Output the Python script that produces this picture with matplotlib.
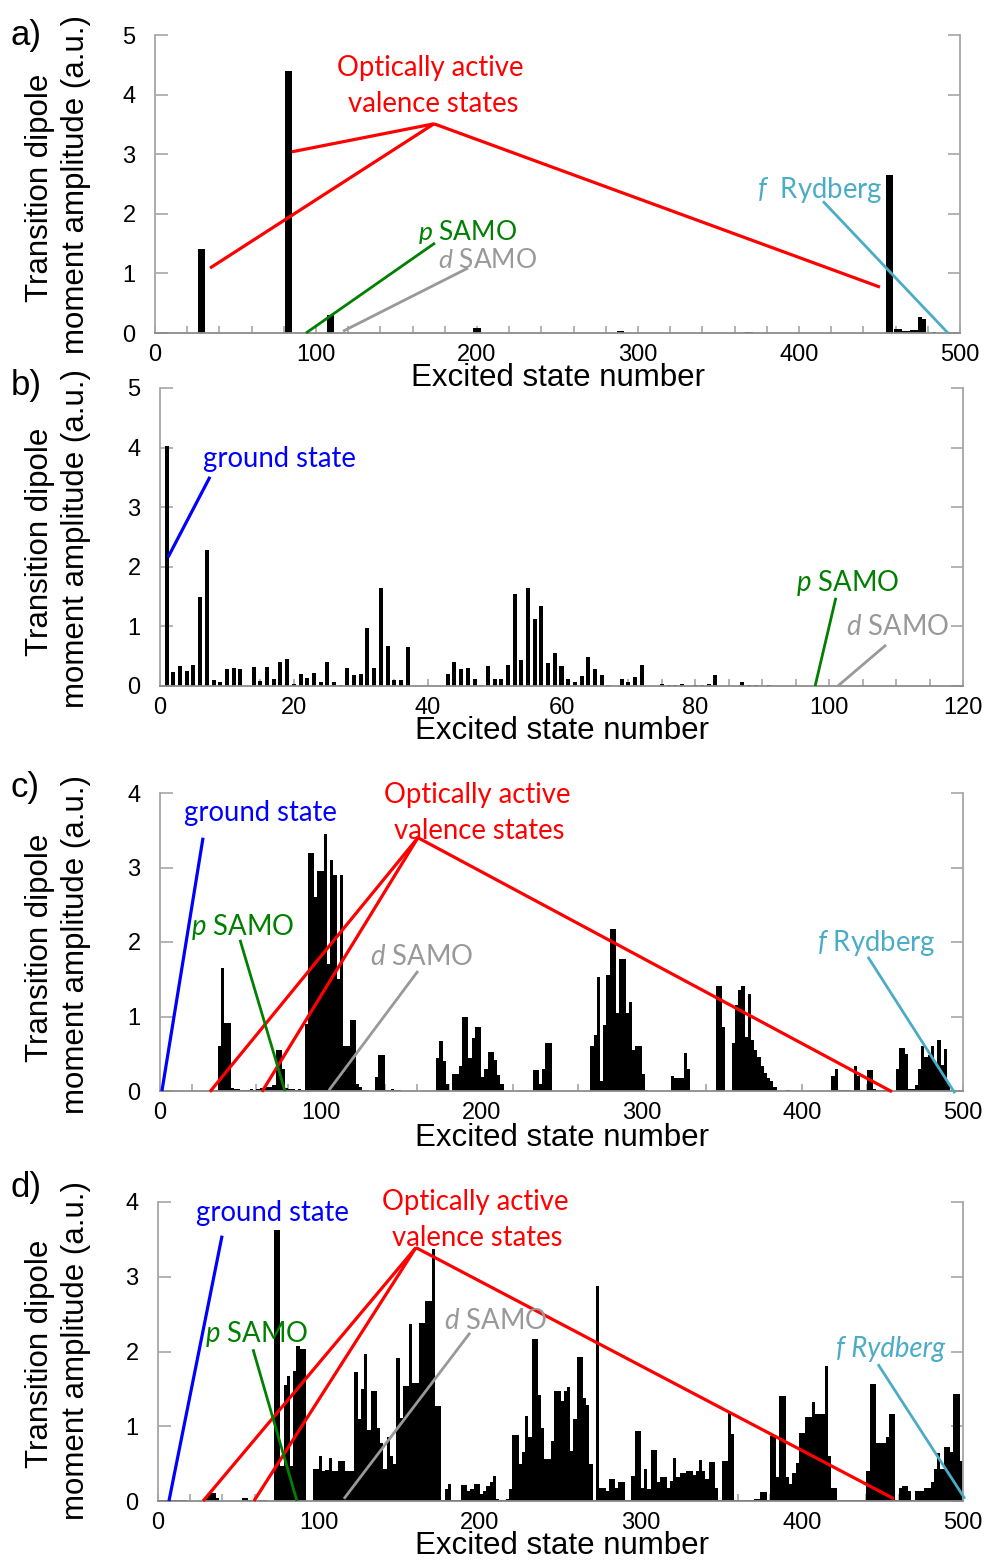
import numpy as np
import matplotlib.pyplot as plt

plt.rcParams['font.family'] = ['Liberation Sans', 'DejaVu Sans']
plt.rcParams['mathtext.fontset'] = 'custom'
plt.rcParams['mathtext.rm'] = 'Lato'
plt.rcParams['mathtext.it'] = 'Lato:italic'

# ---------------- data ----------------
# a) isolated peaks (state number, amplitude)
a_states = [29, 83, 109, 200, 289, 369, 456]
a_amps = [1.41, 4.39, 0.31, 0.08, 0.04, 0.02, 2.65]
a_tail_states = [460, 462.5, 465, 467.5, 470, 472.5, 475, 477.5, 484]
a_tail_amps = [0.06, 0.06, 0.04, 0.04, 0.05, 0.05, 0.27, 0.23, 0.01]

# b) states 1..91
b_amps = [4.02, 0.24, 0.33, 0.26, 0.35, 1.49, 2.28, 0.10, 0.06, 0.28,
          0.30, 0.28, 0.00, 0.32, 0.08, 0.32, 0.11, 0.41, 0.45, 0.04,
          0.20, 0.13, 0.22, 0.06, 0.41, 0.06, 0.01, 0.30, 0.19, 0.20,
          0.97, 0.30, 1.64, 0.67, 0.10, 0.10, 0.65, 0.00, 0.00, 0.00,
          0.00, 0.00, 0.20, 0.41, 0.28, 0.30, 0.11, 0.01, 0.33, 0.11,
          0.11, 0.35, 1.55, 0.44, 1.64, 1.12, 1.34, 0.39, 0.56, 0.33,
          0.11, 0.06, 0.17, 0.49, 0.28, 0.19, 0.01, 0.00, 0.11, 0.06,
          0.15, 0.35, 0.00, 0.00, 0.03, 0.02, 0.02, 0.04, 0.00, 0.02,
          0.02, 0.03, 0.19, 0.00, 0.00, 0.00, 0.06, 0.02, 0.02, 0.00,
          0.01]

# c) and d) amplitudes in bins of two states, states 0..498 (one row = 20 states)
c_amps = [
    0, 0, 0, 0, 0, 0, 0, 0, 0, 0,
    0, 0, 0, 0, 0, 0, 0.01, 0.01, 0.6, 1.65,
    0.91, 0.91, 0.04, 0.03, 0.03, 0.02, 0.02, 0.02, 0.03, 0.02,
    0.03, 0.04, 0.05, 0.06, 0.05, 0.08, 0.55, 0.55, 0.3, 0.04,
    0.03, 0.03, 0.02, 0.03, 0.02, 0.9, 3.2, 3.2, 2.6, 2.95,
    2.95, 3.45, 1.7, 3.1, 2.9, 1.5, 2.9, 0.6, 0.6, 0.95,
    0.95, 0.1, 0.05, 0.02, 0.02, 0, 0, 0.19, 0.48, 0.48,
    0.02, 0.02, 0.03, 0.02, 0.02, 0, 0, 0, 0, 0,
    0, 0, 0, 0, 0, 0, 0.44, 0.67, 0.4, 0.1,
    0, 0.23, 0.23, 0.33, 1.0, 1.0, 0.44, 0.71, 0.86, 0.86,
    0.19, 0.3, 0.53, 0.53, 0.42, 0.21, 0.1, 0, 0, 0,
    0, 0, 0, 0, 0, 0, 0.28, 0.28, 0.1, 0.29,
    0.65, 0.65, 0, 0, 0, 0, 0, 0, 0, 0,
    0, 0, 0, 0, 0.6, 0.75, 1.53, 0.14, 0.89, 1.56,
    2.17, 2.17, 1.05, 1.77, 1.77, 1.05, 1.2, 0.55, 0.6, 0.6,
    0.23, 0.02, 0, 0, 0, 0, 0, 0, 0, 0.2,
    0.17, 0.17, 0.17, 0.51, 0.3, 0, 0, 0, 0, 0,
    0, 0, 0, 1.41, 1.41, 0.86, 0, 0, 0.65, 1.15,
    1.36, 1.41, 0.73, 1.3, 0.69, 0.55, 0.46, 0.33, 0.24, 0.17,
    0.13, 0.05, 0, 0, 0, 0.01, 0, 0, 0, 0,
    0, 0, 0, 0, 0, 0, 0, 0, 0, 0.2,
    0.29, 0.02, 0.02, 0.02, 0.02, 0, 0.33, 0.2, 0.02, 0.02,
    0.28, 0.28, 0.03, 0.02, 0.02, 0.01, 0.01, 0, 0, 0.3,
    0.58, 0.58, 0.5, 0.03, 0.03, 0.08, 0.3, 0.6, 0.46, 0.48,
    0.6, 0.38, 0.68, 0.35, 0.56, 0.1, 0, 0, 0, 0,
]

d_amps = [
    0.02, 0.01, 0.02, 0.02, 0.01, 0.02, 0.01, 0.02, 0.01, 0,
    0, 0, 0, 0, 0, 0.08, 0.11, 0.11, 0.04, 0,
    0, 0, 0, 0, 0, 0, 0.04, 0.04, 0.02, 0.02,
    0, 0.02, 0.02, 0.02, 0, 0, 3.62, 3.62, 0.47, 1.55,
    1.67, 0.47, 1.74, 2.07, 2.03, 2.03, 0, 0, 0.43, 0.43,
    0.6, 0.4, 0.42, 0.57, 0.4, 0.4, 0.54, 0.54, 0.4, 0.4,
    0.4, 1.72, 1.1, 1.5, 1.97, 0.95, 1.47, 1.47, 0.98, 0.78,
    0.43, 0.85, 0.6, 0.5, 1.91, 1.11, 1.54, 1.54, 2.37, 1.58,
    1.58, 2.38, 2.38, 2.67, 2.67, 3.37, 1.27, 1.27, 0.02, 0.16,
    0.23, 0.02, 0.01, 0.02, 0.21, 0.21, 0.13, 0.16, 0.23, 0.23,
    0.09, 0.14, 0.2, 0.25, 0.33, 0.03, 0.02, 0.02, 0.03, 0.16,
    0.88, 0.88, 0.49, 0.66, 1.14, 0.85, 2.17, 2.17, 1.42, 0.98,
    0.56, 0.56, 0.8, 1.47, 1.47, 1.34, 1.47, 1.53, 0.67, 1.1,
    1.92, 1.92, 1.38, 1.29, 0.49, 0.02, 2.88, 0.18, 0.18, 0.14,
    0.29, 0.29, 0.18, 0.25, 0.25, 0.02, 0.02, 0.34, 0.93, 0.93,
    0.18, 0.43, 0.16, 0.68, 0.68, 0.25, 0.32, 0.32, 0.18, 0.27,
    0.58, 0.32, 0.38, 0.38, 0.4, 0.4, 0.35, 0.4, 0.55, 0.4,
    0.29, 0.52, 0.52, 0.18, 0.02, 0.54, 0.54, 1.18, 0.89, 0.01,
    0.01, 0.01, 0.01, 0.01, 0.01, 0.03, 0.03, 0.12, 0.12, 0.01,
    0.87, 0.87, 0.32, 1.41, 1.41, 0.32, 0.23, 0.38, 0.51, 0.91,
    0.91, 1.12, 1.12, 1.33, 1.16, 1.16, 1.16, 1.8, 0.6, 0.18,
    0.18, 0.01, 0.01, 0.01, 0.01, 0.01, 0.01, 0.01, 0.01, 0.01,
    0.4, 1.56, 1.56, 0.78, 0.78, 0.78, 0.85, 1.17, 1.17, 0.01,
    0.18, 0.2, 0.2, 0.13, 0.01, 0.14, 0.14, 0.14, 0.18, 0.18,
    0.25, 0.43, 0.64, 0.43, 0.72, 0.72, 0.66, 1.43, 1.43, 0.54,
]

RED = '#ff0000'
GREEN = '#008000'
GRAY = '#999999'
CYAN = '#4bacc6'
BLUE = '#0000ff'
SPINE = '#a6a6a6'


def style_axis(ax, xmax, ymax, xmajor, xminor_step):
    ax.set_xlim(0, xmax)
    ax.set_ylim(0, ymax)
    ax.set_axisbelow(True)
    ax.spines['top'].set_visible(False)
    for s in ['left', 'right']:
        ax.spines[s].set_color(SPINE)
        ax.spines[s].set_linewidth(1.3)
    ax.spines['bottom'].set_color('#8c8c8c')
    ax.spines['bottom'].set_linewidth(1.3)
    ax.set_yticks(range(ymax + 1))
    ax.tick_params(axis='y', which='major', direction='in', left=True, right=True,
                   length=9, width=1.2, color=SPINE, labelsize=17, pad=14)
    ax.set_xticks(np.arange(0, xmax + 1, xmajor))
    ax.set_xticks(np.arange(0, xmax + 1, xminor_step), minor=True)
    ax.tick_params(axis='x', which='both', direction='in', length=5, width=1.2,
                   color=SPINE, labelsize=17, pad=8)


def seg(ax, p0, p1, color, lw=2.0):
    ax.plot([p0[0], p1[0]], [p0[1], p1[1]], color=color, lw=lw,
            solid_capstyle='butt', clip_on=False, zorder=5)


def label(ax, x, y, s, color, style='normal', size=19.8):
    ax.text(x, y, s, color=color, fontsize=size, ha='center', va='center',
            family='Lato', fontstyle=style, zorder=6)


fig = plt.figure(figsize=(9.9, 15.6), dpi=100)
W, H = 990.0, 1560.0


def add_axes(x0, x1, ytop, ybot):
    return fig.add_axes([x0 / W, 1 - ybot / H, (x1 - x0) / W, (ybot - ytop) / H])


# ---------- a ----------
ax = add_axes(155, 960, 35, 333)
ax.bar(a_states, a_amps, width=4.5, color='black')
ax.bar(a_tail_states, a_tail_amps, width=2.4, color='black')
style_axis(ax, 500, 5, 100, 20)
label(ax, 170.8, 4.45, 'Optically active', RED)
label(ax, 172.7, 3.84, 'valence states', RED)
apex = (173.3, 3.51)
for end in [(85, 3.04), (34.2, 1.09), (450.3, 0.77)]:
    seg(ax, apex, end, RED, 2.3)
label(ax, 194.4, 1.70, r'$\mathit{p}$ SAMO', GREEN, size=19)
seg(ax, (173.9, 1.51), (93.8, 0), GREEN)
label(ax, 206.8, 1.22, r'$\mathit{d}$ SAMO', GRAY, size=19)
seg(ax, (194.4, 1.09), (116.8, 0.03), GRAY)
label(ax, 413, 2.4, r'$\mathit{f}$  Rydberg', CYAN)
seg(ax, (414.9, 2.21), (492.5, 0), CYAN)

# ---------- b ----------
ax = add_axes(160, 963, 388, 686)
ax.bar(np.arange(1, len(b_amps) + 1), b_amps, width=0.6, color='black')
style_axis(ax, 120, 5, 20, 5)
label(ax, 17.9, 3.81, 'ground state', BLUE)
seg(ax, (7.47, 3.51), (1.2, 2.16), BLUE, 2.3)
label(ax, 102.8, 1.73, r'$\mathit{p}$ SAMO', GREEN)
seg(ax, (101.0, 1.48), (97.9, 0), GREEN)
label(ax, 110.2, 0.99, r'$\mathit{d}$ SAMO', GRAY)
seg(ax, (108.5, 0.69), (101.3, 0), GRAY)

# ---------- c ----------
ax = add_axes(160, 963, 793, 1091)
ax.bar(np.arange(0, 500, 2), c_amps, width=2.0, align='edge', color='black')
style_axis(ax, 500, 4, 100, 20)
label(ax, 62.3, 3.73, 'ground state', BLUE)
seg(ax, (26.8, 3.40), (1.2, 0), BLUE, 2.3)
label(ax, 197.4, 3.97, 'Optically active', RED)
label(ax, 198.6, 3.49, 'valence states', RED)
apex = (160.6, 3.40)
for end in [(31.1, -0.01), (63.5, -0.01), (455.8, -0.01)]:
    seg(ax, apex, end, RED, 2.3)
label(ax, 51.7, 2.20, r'$\mathit{p}$ SAMO', GREEN)
seg(ax, (49.8, 2.03), (77.8, 0), GREEN)
label(ax, 163.1, 1.80, r'$\mathit{d}$ SAMO', GRAY)
seg(ax, (160.6, 1.61), (105.2, 0.01), GRAY)
label(ax, 445.8, 1.99, r'$\mathit{f}$ Rydberg', CYAN)
seg(ax, (440.8, 1.80), (495, -0.03), CYAN)

# ---------- d ----------
ax = add_axes(158, 963, 1202, 1501)
ax.bar(np.arange(0, 500, 2), d_amps, width=2.0, align='edge', color='black')
style_axis(ax, 500, 4, 100, 20)
label(ax, 70.8, 3.85, 'ground state', BLUE)
seg(ax, (39.8, 3.55), (6.8, 0), BLUE, 2.3)
label(ax, 196.9, 4.0, 'Optically active', RED)
label(ax, 198.1, 3.52, 'valence states', RED)
apex = (160.2, 3.39)
for end in [(28, 0), (59.6, 0), (457.1, 0.03)]:
    seg(ax, apex, end, RED, 2.3)
label(ax, 61.5, 2.23, r'$\mathit{p}$ SAMO', GREEN)
seg(ax, (59, 2.03), (86.3, 0), GREEN)
label(ax, 209.9, 2.41, r'$\mathit{d}$ SAMO', GRAY)
seg(ax, (193.8, 2.25), (115.5, 0.03), GRAY)
label(ax, 454.7, 2.03, 'f Rydberg', CYAN, style='italic')
seg(ax, (447.2, 1.83), (501.2, 0.03), CYAN)

# ---------- shared texts ----------
for yc in [188, 542, 948, 1354]:
    fig.text(40 / W, 1 - yc / H, 'Transition dipole', rotation=90,
             ha='center', va='center', fontsize=22.5)
    fig.text(76 / W, 1 - (yc - 3) / H, 'moment amplitude (a.u.)', rotation=90,
             ha='center', va='center', fontsize=22.5)
for xc, yc in [(558, 378), (562, 731), (562, 1138), (562, 1546)]:
    fig.text(xc / W, 1 - yc / H, 'Excited state number', ha='center', va='center',
             fontsize=22.5)
for s, yc in [('a)', 35), ('b)', 385), ('c)', 787), ('d)', 1188)]:
    fig.text(11 / W, 1 - yc / H, s, ha='left', va='center', fontsize=25)

fig.savefig('out.png', dpi=100, facecolor='white')
